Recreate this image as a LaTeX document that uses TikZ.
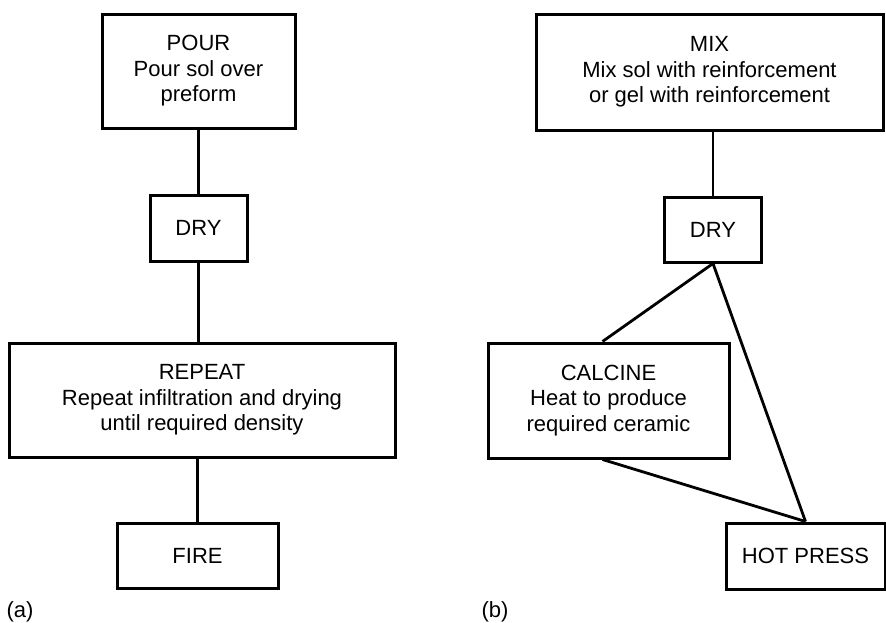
\documentclass[tikz,border=0pt]{standalone}
\usepackage{fontspec}
\setmainfont{Liberation Sans}

\begin{document}
\begin{tikzpicture}[x=1pt, y=-1pt,
  box/.style={draw, line width=3pt, align=center, inner sep=0pt,
    font=\fontsize{22}{25.5}\selectfont},
  link/.style={line width=2.8pt}]
  \useasboundingbox (0,0) rectangle (886,622);
  % (a) sol poured over the preform
  \node[box, minimum width=193pt, minimum height=114pt] (pour) at (198.5,71)
    {POUR\\Pour sol over\\preform};
  \node[box, minimum width=97pt, minimum height=66pt] (dryA) at (198.5,228) {DRY};
  \node[box, minimum width=386pt, minimum height=114pt] (repeat) at (202,400)
    {REPEAT\\Repeat infiltration and drying\\until required density};
  \node[box, minimum width=161pt, minimum height=65pt] (fire) at (197.5,555.5) {FIRE};
  \draw[link] (pour) -- (dryA);
  \draw[link] (dryA.south) -- (dryA.south |- repeat.north);
  \draw[link] (fire.north |- repeat.south) -- (fire);
  \node[font=\fontsize{22}{25}\selectfont] (capA) at (20,612) {(a)};
  % (b) sol or gel mixed with the reinforcement
  \node[box, minimum width=347pt, minimum height=116pt] (mix) at (709.5,72)
    {MIX\\Mix sol with reinforcement\\or gel with reinforcement};
  \node[box, minimum width=97pt, minimum height=65pt] (dryB) at (713,229.5) {DRY};
  \node[box, minimum width=241pt, minimum height=115pt] (calcine) at (608.5,400.5)
    {CALCINE\\Heat to produce\\required ceramic};
  \node[box, minimum width=159pt, minimum height=66pt] (press) at (805.5,556) {HOT PRESS};
  \draw[link] (dryB.north |- mix.south) -- (dryB);
  \draw[link] (dryB.south) -- ([xshift=-6pt]calcine.north);
  \draw[link] (dryB.south) -- (press.north);
  \draw[link] ([xshift=-6pt]calcine.south) -- (press.north);
  \node[font=\fontsize{22}{25}\selectfont] (capB) at (495,612) {(b)};
\end{tikzpicture}
\end{document}
